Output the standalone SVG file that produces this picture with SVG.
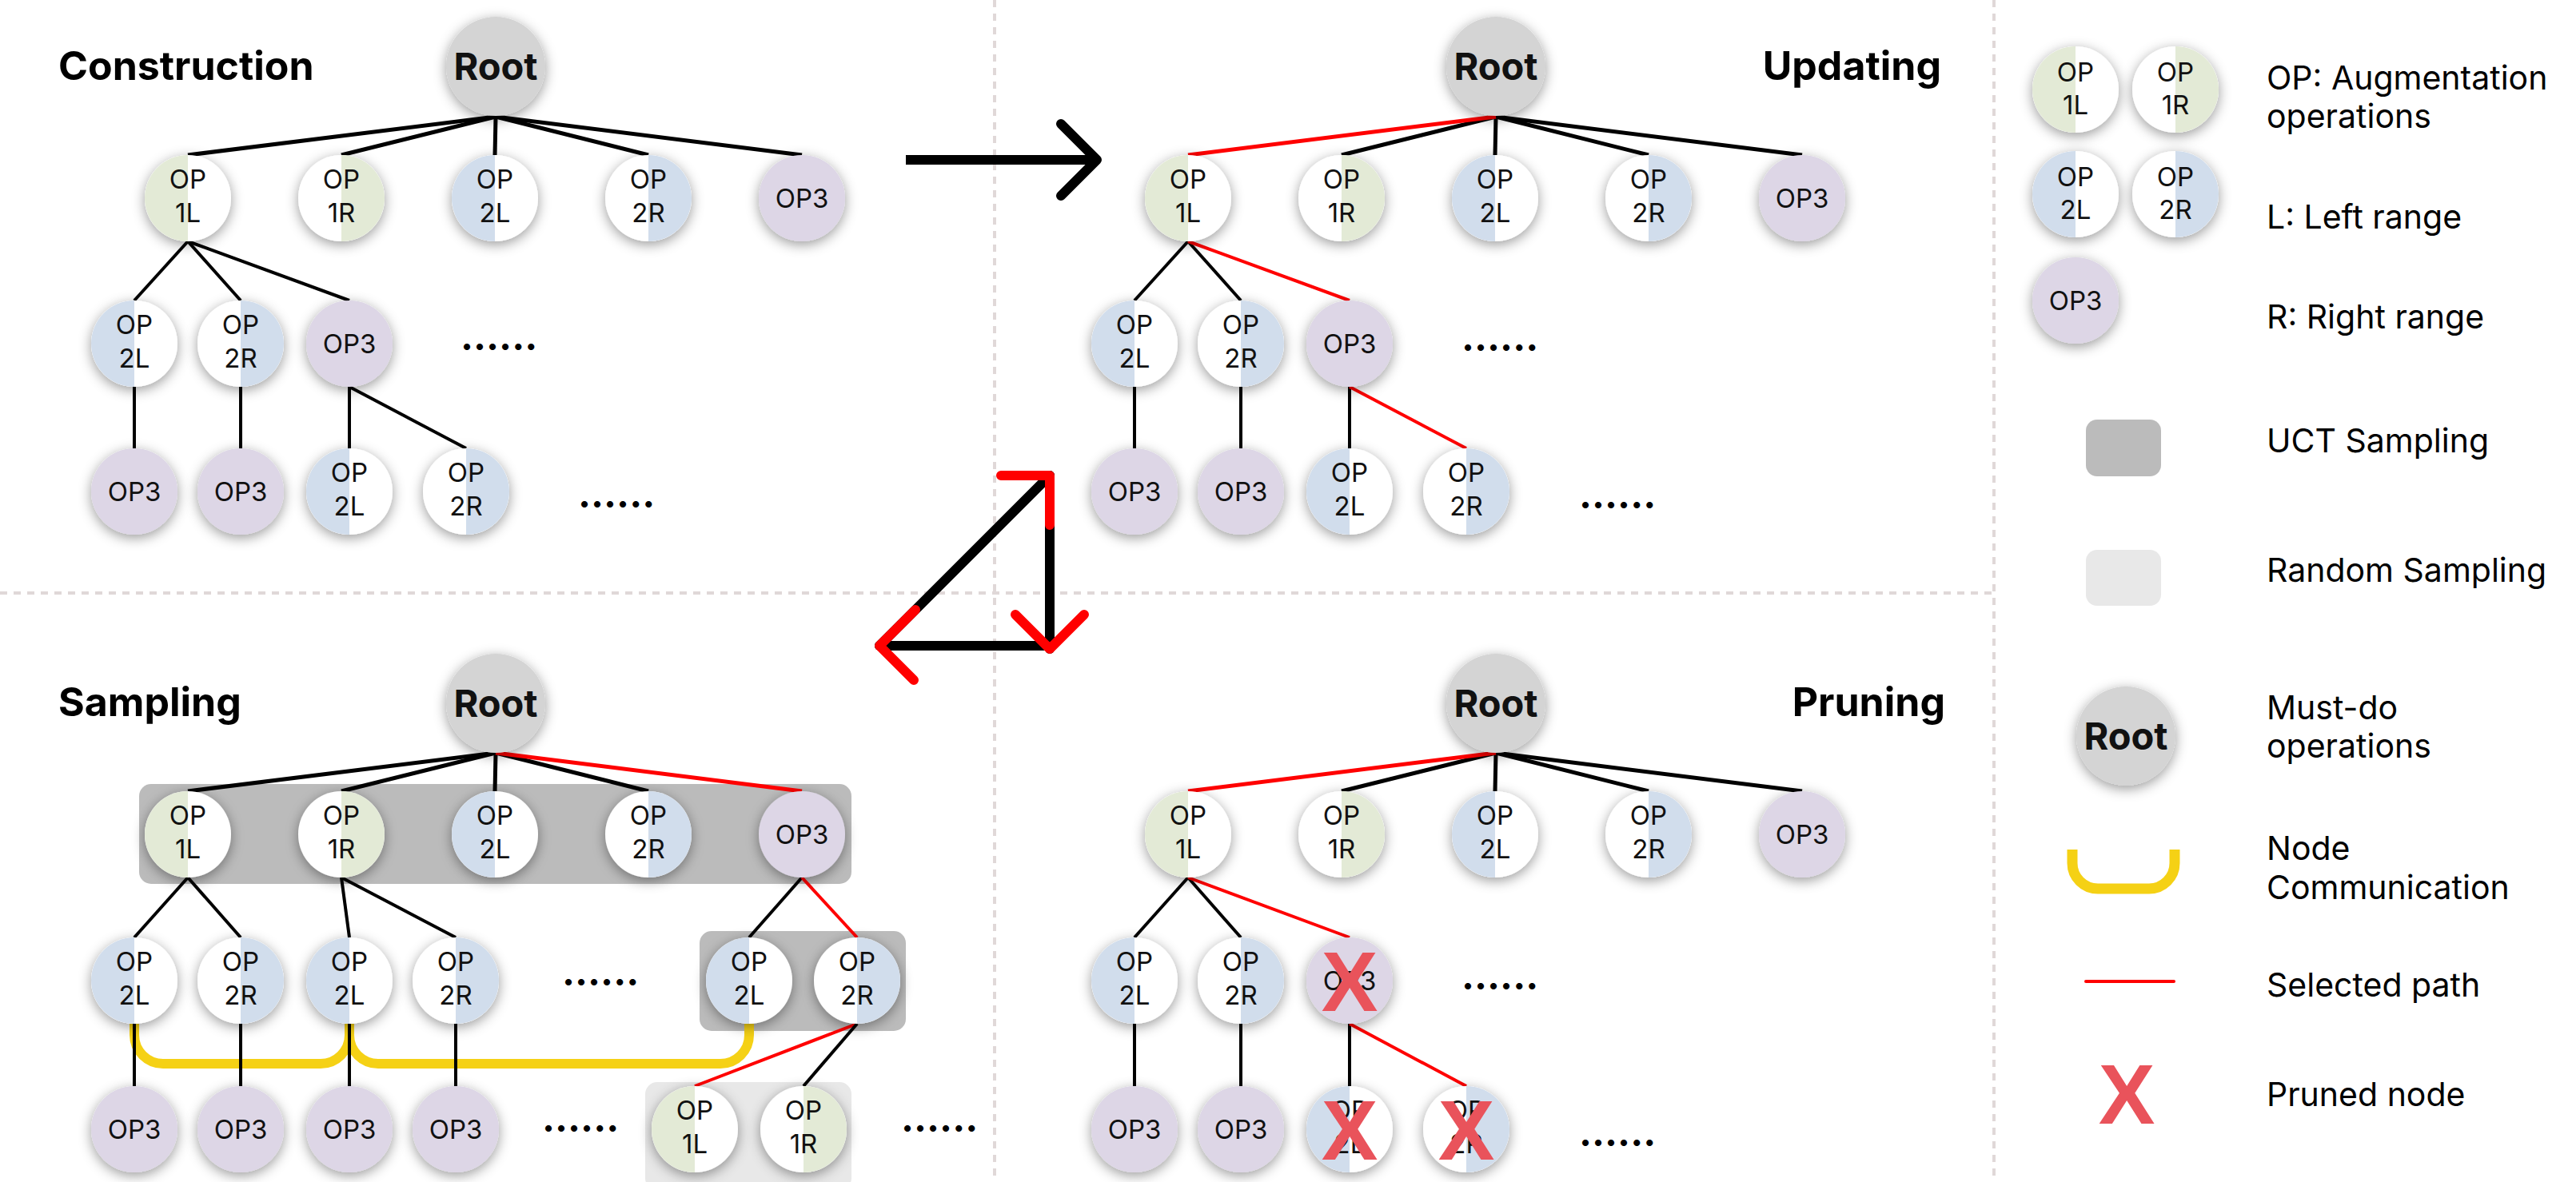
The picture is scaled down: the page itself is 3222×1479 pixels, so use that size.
<svg xmlns="http://www.w3.org/2000/svg" xmlns:xlink="http://www.w3.org/1999/xlink" width="3222" height="1479" viewBox="0 0 3222 1479">
<style>
.nt{font-family:Inter,"Liberation Sans",sans-serif;font-size:33px;fill:#111;text-anchor:middle}
.rt{font-family:Inter,"Liberation Sans",sans-serif;font-size:47px;font-weight:700;fill:#111;text-anchor:middle}
.ti{font-family:Inter,"Liberation Sans",sans-serif;font-size:50px;font-weight:700;fill:#000}
.dots{font-family:Inter,"Liberation Sans",sans-serif;font-size:48px;font-weight:700;fill:#000}
.lg{font-family:Inter,"Liberation Sans",sans-serif;font-size:41px;fill:#000}
.xm{font-family:"Liberation Sans",Arial,sans-serif;font-size:106px;font-weight:700;fill:#e9535b;text-anchor:middle}
.k{stroke:#000;stroke-width:4;fill:none}
.r{stroke:#ff0000;stroke-width:4;fill:none}
.k5{stroke:#000;stroke-width:5;fill:none}
.r5{stroke:#ff0000;stroke-width:5;fill:none}
.dash{stroke:#e0d8d8;stroke-width:4;stroke-dasharray:9 8;fill:none}
.yl{stroke:#f5d115;stroke-width:12;fill:none}
.bigk{stroke:#000;stroke-width:12;fill:none;stroke-linecap:round;stroke-linejoin:round}
.bigr{stroke:#ff0000;stroke-width:12;fill:none;stroke-linecap:round;stroke-linejoin:round}
</style>
<defs>
<filter id="sh" x="-60%" y="-60%" width="220%" height="220%">
<feDropShadow dx="0" dy="4" stdDeviation="8" flood-color="#000" flood-opacity="0.4"/>
</filter>
<g id="b1L"><circle r="54" fill="#fff" filter="url(#sh)"/><path d="M0,-54A54,54 0 0 0 0,54Z" fill="#e3ead6"/></g>
<g id="b1R"><circle r="54" fill="#fff" filter="url(#sh)"/><path d="M0,-54A54,54 0 0 1 0,54Z" fill="#e3ead6"/></g>
<g id="b2L"><circle r="54" fill="#fff" filter="url(#sh)"/><path d="M0,-54A54,54 0 0 0 0,54Z" fill="#d1ddec"/></g>
<g id="b2R"><circle r="54" fill="#fff" filter="url(#sh)"/><path d="M0,-54A54,54 0 0 1 0,54Z" fill="#d1ddec"/></g>
<g id="b3"><circle r="54" fill="#ddd6e6" filter="url(#sh)"/></g>
<g id="bR"><circle r="62" fill="#d4d4d4" filter="url(#sh)"/></g>
</defs>
<rect width="3222" height="1479" fill="#fff"/>

<!-- separators -->
<g id="separators">
<line class="dash" x1="1244" y1="0" x2="1244" y2="1479"/>
<line class="dash" x1="0" y1="742" x2="2494" y2="742"/>
<line class="dash" x1="2494" y1="0" x2="2494" y2="1479"/>
</g>

<!-- titles -->
<g id="titles">
<text class="ti" x="73" y="100">Construction</text>
<text class="ti" x="2428" y="100" text-anchor="end">Updating</text>
<text class="ti" x="73" y="896">Sampling</text>
<text class="ti" x="2433" y="896" text-anchor="end">Pruning</text>
</g>

<!-- sampling regions -->
<g id="regions">
<rect x="174" y="981" width="891" height="125" rx="15" fill="#bbbbbb"/>
<rect x="875" y="1165" width="258" height="125" rx="15" fill="#bbbbbb"/>
<rect x="807" y="1354" width="258" height="135" rx="15" fill="#e8e8e8"/>
</g>

<!-- node communication -->
<g id="communication">
<path class="yl" d="M168,1281V1295A36,36 0 0 0 204,1331H401A36,36 0 0 0 437,1295V1281"/>
<path class="yl" d="M437,1281V1295A36,36 0 0 0 473,1331H901A36,36 0 0 0 937,1295V1281"/>
</g>

<!-- connectors -->
<g id="connectors">
<!-- construction -->
<line class="k5" x1="620" y1="146" x2="235" y2="194"/>
<line class="k5" x1="620" y1="146" x2="427" y2="194"/>
<line class="k5" x1="620" y1="146" x2="619" y2="194"/>
<line class="k5" x1="620" y1="146" x2="811" y2="194"/>
<line class="k5" x1="620" y1="146" x2="1003" y2="194"/>
<line class="k" x1="235" y1="302" x2="168" y2="376"/>
<line class="k" x1="235" y1="302" x2="301" y2="376"/>
<line class="k" x1="235" y1="302" x2="437" y2="376"/>
<line class="k" x1="168" y1="484" x2="168" y2="561"/>
<line class="k" x1="301" y1="484" x2="301" y2="561"/>
<line class="k" x1="437" y1="484" x2="437" y2="561"/>
<line class="k" x1="437" y1="484" x2="583" y2="561"/>
<!-- updating -->
<line class="k5" x1="1871" y1="146" x2="1678" y2="194"/>
<line class="k5" x1="1871" y1="146" x2="1870" y2="194"/>
<line class="k5" x1="1871" y1="146" x2="2062" y2="194"/>
<line class="k5" x1="1871" y1="146" x2="2254" y2="194"/>
<line class="r5" x1="1871" y1="146" x2="1486" y2="194"/>
<line class="k" x1="1486" y1="302" x2="1419" y2="376"/>
<line class="k" x1="1486" y1="302" x2="1552" y2="376"/>
<line class="r" x1="1486" y1="302" x2="1688" y2="376"/>
<line class="k" x1="1419" y1="484" x2="1419" y2="561"/>
<line class="k" x1="1552" y1="484" x2="1552" y2="561"/>
<line class="k" x1="1688" y1="484" x2="1688" y2="561"/>
<line class="r" x1="1688" y1="484" x2="1834" y2="561"/>
<!-- sampling -->
<line class="k5" x1="620" y1="942" x2="235" y2="990"/>
<line class="k5" x1="620" y1="942" x2="427" y2="990"/>
<line class="k5" x1="620" y1="942" x2="619" y2="990"/>
<line class="k5" x1="620" y1="942" x2="811" y2="990"/>
<line class="r5" x1="620" y1="942" x2="1003" y2="990"/>
<line class="k" x1="235" y1="1098" x2="168" y2="1173"/>
<line class="k" x1="235" y1="1098" x2="301" y2="1173"/>
<line class="k" x1="427" y1="1098" x2="437" y2="1173"/>
<line class="k" x1="427" y1="1098" x2="570" y2="1173"/>
<line class="k" x1="1003" y1="1098" x2="937" y2="1173"/>
<line class="r" x1="1003" y1="1098" x2="1072" y2="1173"/>
<line class="k" x1="168" y1="1281" x2="168" y2="1359"/>
<line class="k" x1="301" y1="1281" x2="301" y2="1359"/>
<line class="k" x1="437" y1="1281" x2="437" y2="1359"/>
<line class="k" x1="570" y1="1281" x2="570" y2="1359"/>
<line class="r" x1="1072" y1="1281" x2="869" y2="1359"/>
<line class="k" x1="1072" y1="1281" x2="1005" y2="1359"/>
<!-- pruning -->
<line class="k5" x1="1871" y1="942" x2="1678" y2="990"/>
<line class="k5" x1="1871" y1="942" x2="1870" y2="990"/>
<line class="k5" x1="1871" y1="942" x2="2062" y2="990"/>
<line class="k5" x1="1871" y1="942" x2="2254" y2="990"/>
<line class="r5" x1="1871" y1="942" x2="1486" y2="990"/>
<line class="k" x1="1486" y1="1098" x2="1419" y2="1173"/>
<line class="k" x1="1486" y1="1098" x2="1552" y2="1173"/>
<line class="r" x1="1486" y1="1098" x2="1688" y2="1173"/>
<line class="k" x1="1419" y1="1281" x2="1419" y2="1359"/>
<line class="k" x1="1552" y1="1281" x2="1552" y2="1359"/>
<line class="k" x1="1688" y1="1281" x2="1688" y2="1359"/>
<line class="r" x1="1688" y1="1281" x2="1834" y2="1359"/>
</g>

<!-- process arrows -->
<g id="arrows">
<line x1="1133" y1="200" x2="1370" y2="200" stroke="#000" stroke-width="12"/>
<polyline class="bigk" points="1327,155 1372,200 1327,245"/>
<line class="bigk" x1="1100" y1="808" x2="1313" y2="595"/>
<line class="bigk" x1="1313" y1="595" x2="1313" y2="812"/>
<line class="bigk" x1="1100" y1="808" x2="1313" y2="808"/>
<polyline class="bigr" points="1252,595 1313,595 1313,657"/>
<polyline class="bigr" points="1145,763 1100,808 1143,851"/>
<polyline class="bigr" points="1270,769 1313,812 1356,769"/>
</g>

<!-- Construction nodes -->
<g id="c-root" transform="translate(620,83)"><use href="#bR"/><text class="rt" y="17">Root</text></g>
<g id="c-1L" transform="translate(235,248)"><use href="#b1L"/><text class="nt" y="-12">OP</text><text class="nt" y="30">1L</text></g>
<g id="c-1R" transform="translate(427,248)"><use href="#b1R"/><text class="nt" y="-12">OP</text><text class="nt" y="30">1R</text></g>
<g id="c-2L" transform="translate(619,248)"><use href="#b2L"/><text class="nt" y="-12">OP</text><text class="nt" y="30">2L</text></g>
<g id="c-2R" transform="translate(811,248)"><use href="#b2R"/><text class="nt" y="-12">OP</text><text class="nt" y="30">2R</text></g>
<g id="c-3" transform="translate(1003,248)"><use href="#b3"/><text class="nt" y="12">OP3</text></g>
<g id="c-1L-2L" transform="translate(168,430)"><use href="#b2L"/><text class="nt" y="-12">OP</text><text class="nt" y="30">2L</text></g>
<g id="c-1L-2R" transform="translate(301,430)"><use href="#b2R"/><text class="nt" y="-12">OP</text><text class="nt" y="30">2R</text></g>
<g id="c-1L-3" transform="translate(437,430)"><use href="#b3"/><text class="nt" y="12">OP3</text></g>
<g id="c-2L-3" transform="translate(168,615)"><use href="#b3"/><text class="nt" y="12">OP3</text></g>
<g id="c-2R-3" transform="translate(301,615)"><use href="#b3"/><text class="nt" y="12">OP3</text></g>
<g id="c-3-2L" transform="translate(437,615)"><use href="#b2L"/><text class="nt" y="-12">OP</text><text class="nt" y="30">2L</text></g>
<g id="c-3-2R" transform="translate(583,615)"><use href="#b2R"/><text class="nt" y="-12">OP</text><text class="nt" y="30">2R</text></g>
<text class="dots" x="576" y="438">......</text>
<text class="dots" x="723" y="635">......</text>

<!-- Updating nodes -->
<g id="u-root" transform="translate(1871,83)"><use href="#bR"/><text class="rt" y="17">Root</text></g>
<g id="u-1L" transform="translate(1486,248)"><use href="#b1L"/><text class="nt" y="-12">OP</text><text class="nt" y="30">1L</text></g>
<g id="u-1R" transform="translate(1678,248)"><use href="#b1R"/><text class="nt" y="-12">OP</text><text class="nt" y="30">1R</text></g>
<g id="u-2L" transform="translate(1870,248)"><use href="#b2L"/><text class="nt" y="-12">OP</text><text class="nt" y="30">2L</text></g>
<g id="u-2R" transform="translate(2062,248)"><use href="#b2R"/><text class="nt" y="-12">OP</text><text class="nt" y="30">2R</text></g>
<g id="u-3" transform="translate(2254,248)"><use href="#b3"/><text class="nt" y="12">OP3</text></g>
<g id="u-1L-2L" transform="translate(1419,430)"><use href="#b2L"/><text class="nt" y="-12">OP</text><text class="nt" y="30">2L</text></g>
<g id="u-1L-2R" transform="translate(1552,430)"><use href="#b2R"/><text class="nt" y="-12">OP</text><text class="nt" y="30">2R</text></g>
<g id="u-1L-3" transform="translate(1688,430)"><use href="#b3"/><text class="nt" y="12">OP3</text></g>
<g id="u-2L-3" transform="translate(1419,615)"><use href="#b3"/><text class="nt" y="12">OP3</text></g>
<g id="u-2R-3" transform="translate(1552,615)"><use href="#b3"/><text class="nt" y="12">OP3</text></g>
<g id="u-3-2L" transform="translate(1688,615)"><use href="#b2L"/><text class="nt" y="-12">OP</text><text class="nt" y="30">2L</text></g>
<g id="u-3-2R" transform="translate(1834,615)"><use href="#b2R"/><text class="nt" y="-12">OP</text><text class="nt" y="30">2R</text></g>
<text class="dots" x="1828" y="439">......</text>
<text class="dots" x="1975" y="636">......</text>

<!-- Sampling nodes -->
<g id="s-root" transform="translate(620,880)"><use href="#bR"/><text class="rt" y="17">Root</text></g>
<g id="s-1L" transform="translate(235,1044)"><use href="#b1L"/><text class="nt" y="-12">OP</text><text class="nt" y="30">1L</text></g>
<g id="s-1R" transform="translate(427,1044)"><use href="#b1R"/><text class="nt" y="-12">OP</text><text class="nt" y="30">1R</text></g>
<g id="s-2L" transform="translate(619,1044)"><use href="#b2L"/><text class="nt" y="-12">OP</text><text class="nt" y="30">2L</text></g>
<g id="s-2R" transform="translate(811,1044)"><use href="#b2R"/><text class="nt" y="-12">OP</text><text class="nt" y="30">2R</text></g>
<g id="s-3" transform="translate(1003,1044)"><use href="#b3"/><text class="nt" y="12">OP3</text></g>
<g id="s-1L-2L" transform="translate(168,1227)"><use href="#b2L"/><text class="nt" y="-12">OP</text><text class="nt" y="30">2L</text></g>
<g id="s-1L-2R" transform="translate(301,1227)"><use href="#b2R"/><text class="nt" y="-12">OP</text><text class="nt" y="30">2R</text></g>
<g id="s-1R-2L" transform="translate(437,1227)"><use href="#b2L"/><text class="nt" y="-12">OP</text><text class="nt" y="30">2L</text></g>
<g id="s-1R-2R" transform="translate(570,1227)"><use href="#b2R"/><text class="nt" y="-12">OP</text><text class="nt" y="30">2R</text></g>
<g id="s-3-2L" transform="translate(937,1227)"><use href="#b2L"/><text class="nt" y="-12">OP</text><text class="nt" y="30">2L</text></g>
<g id="s-3-2R" transform="translate(1072,1227)"><use href="#b2R"/><text class="nt" y="-12">OP</text><text class="nt" y="30">2R</text></g>
<g id="s-a-3" transform="translate(168,1413)"><use href="#b3"/><text class="nt" y="12">OP3</text></g>
<g id="s-b-3" transform="translate(301,1413)"><use href="#b3"/><text class="nt" y="12">OP3</text></g>
<g id="s-c-3" transform="translate(437,1413)"><use href="#b3"/><text class="nt" y="12">OP3</text></g>
<g id="s-d-3" transform="translate(570,1413)"><use href="#b3"/><text class="nt" y="12">OP3</text></g>
<g id="s-2R-1L" transform="translate(869,1413)"><use href="#b1L"/><text class="nt" y="-12">OP</text><text class="nt" y="30">1L</text></g>
<g id="s-2R-1R" transform="translate(1005,1413)"><use href="#b1R"/><text class="nt" y="-12">OP</text><text class="nt" y="30">1R</text></g>
<text class="dots" x="703" y="1233">......</text>
<text class="dots" x="678" y="1416">......</text>
<text class="dots" x="1127" y="1416">......</text>

<!-- Pruning nodes -->
<g id="p-root" transform="translate(1871,880)"><use href="#bR"/><text class="rt" y="17">Root</text></g>
<g id="p-1L" transform="translate(1486,1044)"><use href="#b1L"/><text class="nt" y="-12">OP</text><text class="nt" y="30">1L</text></g>
<g id="p-1R" transform="translate(1678,1044)"><use href="#b1R"/><text class="nt" y="-12">OP</text><text class="nt" y="30">1R</text></g>
<g id="p-2L" transform="translate(1870,1044)"><use href="#b2L"/><text class="nt" y="-12">OP</text><text class="nt" y="30">2L</text></g>
<g id="p-2R" transform="translate(2062,1044)"><use href="#b2R"/><text class="nt" y="-12">OP</text><text class="nt" y="30">2R</text></g>
<g id="p-3" transform="translate(2254,1044)"><use href="#b3"/><text class="nt" y="12">OP3</text></g>
<g id="p-1L-2L" transform="translate(1419,1227)"><use href="#b2L"/><text class="nt" y="-12">OP</text><text class="nt" y="30">2L</text></g>
<g id="p-1L-2R" transform="translate(1552,1227)"><use href="#b2R"/><text class="nt" y="-12">OP</text><text class="nt" y="30">2R</text></g>
<g id="p-1L-3" transform="translate(1688,1227)"><use href="#b3"/><text class="nt" y="12">OP3</text><text class="xm" y="38">X</text></g>
<g id="p-2L-3" transform="translate(1419,1413)"><use href="#b3"/><text class="nt" y="12">OP3</text></g>
<g id="p-2R-3" transform="translate(1552,1413)"><use href="#b3"/><text class="nt" y="12">OP3</text></g>
<g id="p-3-2L" transform="translate(1688,1413)"><use href="#b2L"/><text class="nt" y="-12">OP</text><text class="nt" y="30">2L</text><text class="xm" y="38">X</text></g>
<g id="p-3-2R" transform="translate(1834,1413)"><use href="#b2R"/><text class="nt" y="-12">OP</text><text class="nt" y="30">2R</text><text class="xm" y="38">X</text></g>
<text class="dots" x="1828" y="1238">......</text>
<text class="dots" x="1975" y="1434">......</text>

<!-- Legend -->
<g id="legend">
<g id="lg-1L" transform="translate(2596,112)"><use href="#b1L"/><text class="nt" y="-10">OP</text><text class="nt" y="31">1L</text></g>
<g id="lg-1R" transform="translate(2721,112)"><use href="#b1R"/><text class="nt" y="-10">OP</text><text class="nt" y="31">1R</text></g>
<g id="lg-2L" transform="translate(2596,243)"><use href="#b2L"/><text class="nt" y="-10">OP</text><text class="nt" y="31">2L</text></g>
<g id="lg-2R" transform="translate(2721,243)"><use href="#b2R"/><text class="nt" y="-10">OP</text><text class="nt" y="31">2R</text></g>
<g id="lg-3" transform="translate(2596,376)"><use href="#b3"/><text class="nt" y="12">OP3</text></g>
<text class="lg" x="2835" y="112">OP: Augmentation</text>
<text class="lg" x="2835" y="160">operations</text>
<text class="lg" x="2835" y="286">L: Left range</text>
<text class="lg" x="2835" y="411">R: Right range</text>
<rect x="2609" y="525" width="94" height="71" rx="14" fill="#bbbbbb"/>
<text class="lg" x="2835" y="566">UCT Sampling</text>
<rect x="2609" y="688" width="94" height="70" rx="14" fill="#e8e8e8"/>
<text class="lg" x="2835" y="728">Random Sampling</text>
<g id="lg-root" transform="translate(2659,921)"><use href="#bR"/><text class="rt" y="17">Root</text></g>
<text class="lg" x="2835" y="900">Must-do</text>
<text class="lg" x="2835" y="948">operations</text>
<path d="M2592,1063V1080A32,32 0 0 0 2624,1112H2688A32,32 0 0 0 2720,1080V1063" stroke="#f5d115" stroke-width="13" fill="none"/>
<text class="lg" x="2835" y="1076">Node</text>
<text class="lg" x="2835" y="1125">Communication</text>
<line x1="2609" y1="1228" x2="2719" y2="1228" stroke="#ff0000" stroke-width="4" stroke-linecap="round"/>
<text class="lg" x="2835" y="1247">Selected path</text>
<text class="xm" x="2660" y="1406">X</text>
<text class="lg" x="2835" y="1384">Pruned node</text>
</g>
</svg>
